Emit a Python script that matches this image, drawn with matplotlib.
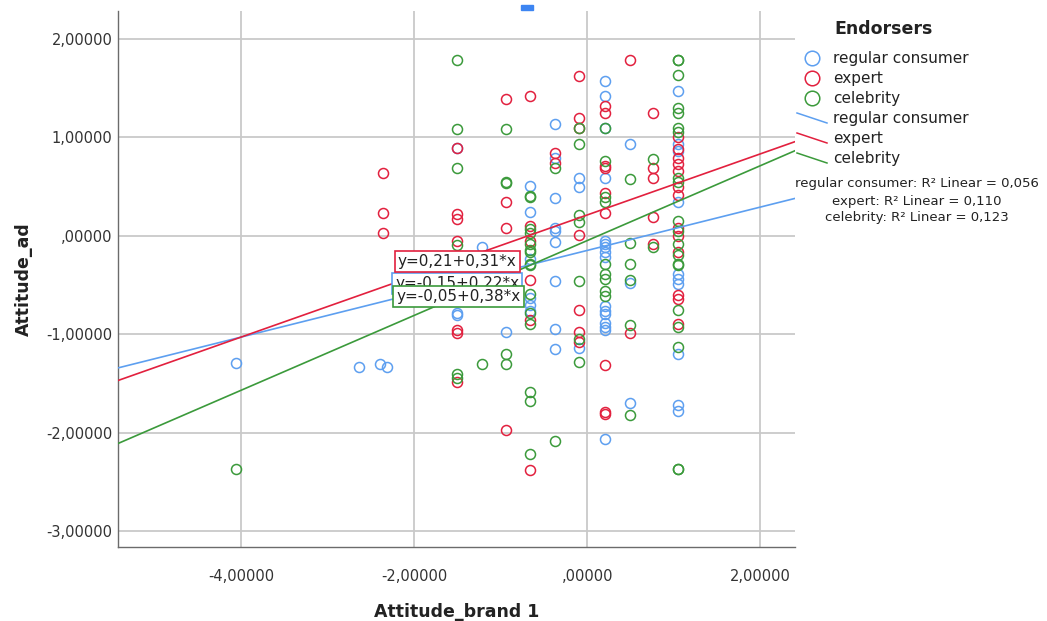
import numpy as np
import matplotlib
matplotlib.use("Agg")
import matplotlib.pyplot as plt
from matplotlib.lines import Line2D
from matplotlib.patches import Rectangle
from matplotlib.ticker import FuncFormatter

plt.rcParams['font.family'] = ['DejaVu Sans']

groups = ["regular consumer", "expert", "celebrity"]
colors = ["#5d9ff0", "#e2203e", "#3b9a3b"]

# regular consumer (blue)
reg_x = [-4.06, -2.64, -2.39, -2.31,
         -1.50, -1.50, -1.50, -1.21, -0.94,
         -0.66, -0.66, -0.66, -0.66, -0.66, -0.66,
         -0.37, -0.37, -0.37, -0.37, -0.37, -0.37, -0.37, -0.37, -0.37,
         -0.09, -0.09, -0.09,
         0.20, 0.20, 0.20, 0.20, 0.20, 0.20, 0.20, 0.20, 0.20, 0.20, 0.20, 0.20, 0.20, 0.20, 0.20, 0.20,
         0.49, 0.49, 0.49,
         1.05, 1.05, 1.05, 1.05, 1.05, 1.05, 1.05, 1.05, 1.05, 1.05]
reg_y = [-1.29, -1.33, -1.30, -1.33,
         0.89, -0.79, -0.81, -0.12, -0.98,
         0.50, 0.24, -0.24, -0.63, -0.70, -0.76,
         1.13, 0.79, 0.38, 0.08, 0.05, -0.06, -0.46, -0.95, -1.15,
         0.59, 0.49, -1.14,
         1.57, 1.42, 1.09, 0.59, -0.05, -0.08, -0.12, -0.17, -0.22, -0.71, -0.76, -0.80, -0.89, -0.93, -0.96, -2.06,
         0.93, -0.48, -1.70,
         1.47, 0.93, 0.86, 0.34, -0.39, -0.44, -0.49, -1.20, -1.72, -1.78]

# expert (red)
exp_x = [-2.36, -2.36, -2.36,
         -1.50, -1.50, -1.50, -1.50, -1.50, -1.50, -1.50,
         -0.94, -0.94, -0.94, -0.94,
         -0.66, -0.66, -0.66, -0.66, -0.66, -0.66,
         -0.37, -0.37,
         -0.09, -0.09, -0.09, -0.09, -0.09, -0.09, -0.09,
         0.20, 0.20, 0.20, 0.20, 0.20, 0.20, 0.20, 0.20, 0.20,
         0.49, 0.49,
         0.76, 0.76, 0.76, 0.76, 0.76,
         1.05, 1.05, 1.05, 1.05, 1.05, 1.05, 1.05, 1.05, 1.05, 1.05, 1.05, 1.05, 1.05]
exp_y = [0.64, 0.23, 0.03,
         0.89, 0.22, 0.17, -0.05, -0.96, -0.99, -1.49,
         1.39, 0.34, 0.08, -1.97,
         1.42, 0.10, -0.05, -0.45, -0.86, -2.38,
         0.84, 0.74,
         1.62, 1.19, 1.09, 0.01, -0.75, -0.98, -1.08,
         1.32, 1.24, 0.71, 0.69, 0.43, 0.23, -1.31, -1.79, -1.81,
         1.78, -0.99,
         1.24, 0.69, 0.59, 0.19, -0.08,
         1.00, 0.88, 0.79, 0.73, 0.66, 0.49, 0.41, 0.08, 0.00, -0.17, -0.60, -0.64, -0.90]

# celebrity (green)
cel_x = [-4.06,
         -1.50, -1.50, -1.50, -1.50, -1.50, -1.50,
         -1.21,
         -0.94, -0.94, -0.94, -0.94, -0.94,
         -0.66, -0.66, -0.66, -0.66, -0.66, -0.66, -0.66, -0.66, -0.66, -0.66, -0.66, -0.66, -0.66, -0.66, -0.66,
         -0.37, -0.37,
         -0.09, -0.09, -0.09, -0.09, -0.09, -0.09, -0.09,
         0.20, 0.20, 0.20, 0.20, 0.20, 0.20, 0.20, 0.20, 0.20,
         0.49, 0.49, 0.49, 0.49, 0.49, 0.49,
         0.76, 0.76,
         1.05, 1.05, 1.05, 1.05, 1.05, 1.05, 1.05, 1.05, 1.05, 1.05, 1.05, 1.05, 1.05, 1.05, 1.05, 1.05,
         1.05, 1.05, 1.05, 1.05]
cel_y = [-2.37,
         1.78, 1.08, 0.69, -0.10, -1.40, -1.44,
         -1.30,
         1.08, 0.54, 0.53, -1.20, -1.30,
         0.40, 0.39, 0.07, 0.03, -0.08, -0.15, -0.17, -0.29, -0.30, -0.59, -0.78, -0.90, -1.59, -1.68, -2.22,
         0.69, -2.08,
         1.09, 0.93, 0.21, 0.14, -0.46, -1.05, -1.28,
         1.09, 0.76, 0.39, 0.34, -0.29, -0.39, -0.44, -0.56, -0.61,
         0.58, -0.07, -0.29, -0.45, -0.91, -1.82,
         0.78, -0.12,
         1.78, 1.78, 1.63, 1.30, 1.24, 1.09, 1.05, 0.59, 0.54, 0.15, 0.05, -0.08, -0.20, -0.29, -0.30, -0.75,
         -0.93, -1.13, -2.37, -2.37]

intercepts = [-0.15, 0.21, -0.05]
slopes = [0.22, 0.31, 0.38]
r2 = [0.056, 0.110, 0.123]

xs = [reg_x, exp_x, cel_x]
ys = [reg_y, exp_y, cel_y]

W, H = 1047, 621
fig = plt.figure(figsize=(W / 100, H / 100), dpi=100)
ax = fig.add_axes([118 / W, 1 - 547 / H, (795 - 118) / W, (547 - 11) / H])
xmin, xmax = -5.42, 2.40
ax.set_xlim(xmin, xmax)
ax.set_ylim(-3.16, 2.28)

for x, y, c in zip(xs, ys, colors):
    ax.plot(x, y, 'o', ms=7.2, mfc='none', mec=c, mew=1.1, zorder=3)

line_x = np.array([xmin, xmax])
for b, m, c in zip(intercepts, slopes, colors):
    ax.plot(line_x, b + m * line_x, color=c, lw=1.2, zorder=4)

# equation labels
label_pos = [(-1.503, -0.482), (-1.503, -0.259), (-1.486, -0.614)]
for i, (b, m, c) in enumerate(zip(intercepts, slopes, colors)):
    s = f"y={b:.2f}+{m:.2f}*x".replace('.', ',')
    ax.text(label_pos[i][0], label_pos[i][1], s, fontsize=11, color='#222222',
            ha='center', va='center', zorder=6 + i,
            bbox=dict(boxstyle='square,pad=0.2', fc='white', ec=c, lw=1.2))

ax.set_xticks([-4, -2, 0, 2])
ax.set_yticks([-3, -2, -1, 0, 1, 2])


def fmt(v, pos):
    s = f"{v:.5f}".replace('.', ',')
    if s.startswith('0,'):
        s = s[1:]
    return s


ax.xaxis.set_major_formatter(FuncFormatter(fmt))
ax.yaxis.set_major_formatter(FuncFormatter(fmt))
ax.tick_params(axis='both', length=0, labelsize=10.5, labelcolor='#333333')
ax.tick_params(axis='x', pad=16)
ax.tick_params(axis='y', pad=4)
ax.grid(True, color='#c9c9c9', lw=1.3)
ax.set_axisbelow(True)
for side in ['top', 'right']:
    ax.spines[side].set_visible(False)
for side in ['left', 'bottom']:
    ax.spines[side].set_color('#6b6b6b')
    ax.spines[side].set_linewidth(1.0)

ax.set_xlabel("Attitude_brand 1", fontsize=12.5, fontweight='bold', color='#222222')
ax.xaxis.set_label_coords(0.5, -0.104)
ax.set_ylabel("Attitude_ad", fontsize=12.5, fontweight='bold', color='#222222')
ax.yaxis.set_label_coords(-0.125, 0.5)

# legend
def fy(py):
    return 1 - py / H


fig.text(884 / W, fy(29), "Endorsers", fontsize=12.5, fontweight='bold',
         ha='center', va='center', color='#222222')
for i, (g, c) in enumerate(zip(groups, colors)):
    yy = 58 + 20 * i
    fig.add_artist(Line2D([812 / W], [fy(yy)], marker='o', ms=10.5, mfc='none',
                          mec=c, mew=1.1, transform=fig.transFigure))
    fig.text(833 / W, fy(yy), g, fontsize=11, ha='left', va='center', color='#222222')
for i, (g, c) in enumerate(zip(groups, colors)):
    yy = 118 + 20 * i
    fig.add_artist(Line2D([797 / W, 827 / W], [fy(yy - 5), fy(yy + 5)], color=c,
                          lw=1.1, transform=fig.transFigure))
    fig.text(833 / W, fy(yy), g, fontsize=11, ha='left', va='center', color='#222222')
for i, (g, r) in enumerate(zip(groups, r2)):
    yy = 184 + 17 * i
    s = f"{g}: R\u00b2 Linear = {r:.3f}".replace('.', ',')
    fig.text(917 / W, fy(yy), s, fontsize=9.5, ha='center', va='center',
             color='#222222')

# small blue handle at the top
fig.patches.append(Rectangle((521 / W, fy(10)), 12 / W, 5 / H, color='#3d85f2',
                             transform=fig.transFigure, figure=fig))

fig.savefig("out.png", dpi=100)
